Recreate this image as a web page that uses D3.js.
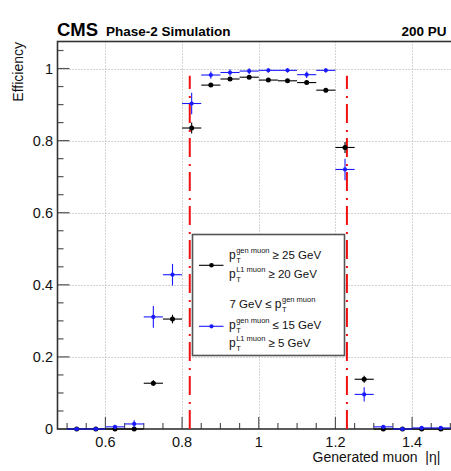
<!DOCTYPE html>
<html>
<head>
<meta charset="utf-8">
<script src="https://cdn.jsdelivr.net/npm/d3@7"></script>
<style>
  body { margin: 0; background: #fff; }
  svg { display: block; font-family: "Liberation Sans", Arial, Helvetica, sans-serif; }
</style>
</head>
<body>
<svg id="chart" width="451" height="471"></svg>
<script>
// bin centres of generated muon |eta|
let etaBins = [0.525, 0.575, 0.625, 0.675, 0.725, 0.775, 0.825, 0.875, 0.925, 0.975,
               1.025, 1.075, 1.125, 1.175, 1.225, 1.275, 1.325, 1.375, 1.425, 1.475];
let binHalfWidth = 0.025;

// pT(gen) >= 25 GeV, pT(L1) >= 20 GeV
let effHigh = [0, 0, 0, 0, 0.127, 0.305, 0.835, 0.954, 0.971, 0.976,
               0.968, 0.966, 0.961, 0.940, 0.781, 0.138, 0, 0, 0, 0];
let errHigh = [0, 0, 0, 0, 0.008, 0.012, 0.015, 0.005, 0.004, 0.004,
               0.004, 0.004, 0.005, 0.006, 0.015, 0.010, 0, 0, 0, 0];

// 7 <= pT(gen) <= 15 GeV, pT(L1) >= 5 GeV
let effLow = [0, 0, 0.006, 0.014, 0.311, 0.428, 0.903, 0.982, 0.989, 0.993,
              0.995, 0.995, 0.983, 0.995, 0.720, 0.096, 0.006, 0, 0.003, 0.003];
let errLow = [0.002, 0.002, 0.005, 0.010, 0.030, 0.030, 0.030, 0.010, 0.009, 0.008,
              0.006, 0.006, 0.009, 0.006, 0.030, 0.020, 0.005, 0.002, 0.003, 0.003];

// station boundaries (red dash-dot lines)
let boundaries = [0.82, 1.23];
let boundaryTop = 0.98;

let xTicks = [0.6, 0.8, 1.0, 1.2, 1.4];
let yTicks = [0, 0.2, 0.4, 0.6, 0.8, 1.0];

let svg = d3.select("#chart");

let frame = {left: 57.5, top: 41.5, right: 460, bottom: 429};

let x = d3.scaleLinear().domain([0.475, 1.525]).range([frame.left, frame.right]);
let y = d3.scaleLinear().domain([0, 1.075]).range([frame.bottom, frame.top]);

let fmt = d => d3.format("~g")(d);

// grid
let grid = svg.append("g").attr("class", "grid")
    .attr("stroke", "#a8a8a8")
    .attr("stroke-width", 1)
    .attr("stroke-dasharray", "1,2");

grid.selectAll("line.gx")
    .data(xTicks)
    .join("line")
    .attr("class", "gx")
    .attr("x1", d => Math.round(x(d)) + 0.5).attr("x2", d => Math.round(x(d)) + 0.5)
    .attr("y1", frame.top).attr("y2", frame.bottom);

grid.selectAll("line.gy")
    .data(yTicks.filter(d => d > 0))
    .join("line")
    .attr("class", "gy")
    .attr("x1", frame.left).attr("x2", frame.right)
    .attr("y1", d => Math.round(y(d)) + 0.5).attr("y2", d => Math.round(y(d)) + 0.5);

// ticks (ROOT style, inside the frame)
let minorX = d3.range(0.5, 1.526, 0.05);
let minorY = d3.range(0, 1.076, 0.05);

let ticks = svg.append("g").attr("stroke", "#555").attr("stroke-width", 1.2);

ticks.selectAll("line.tx")
    .data(minorX)
    .join("line")
    .attr("class", "tx")
    .attr("x1", d => x(d)).attr("x2", d => x(d))
    .attr("y1", frame.bottom)
    .attr("y2", d => frame.bottom - (xTicks.some(t => Math.abs(t - d) < 1e-6) ? 12 : 6));

ticks.selectAll("line.ty")
    .data(minorY)
    .join("line")
    .attr("class", "ty")
    .attr("y1", d => y(d)).attr("y2", d => y(d))
    .attr("x1", frame.left)
    .attr("x2", d => frame.left + (yTicks.some(t => Math.abs(t - d) < 1e-6) ? 12 : 6));

// frame
svg.append("rect")
    .attr("x", frame.left).attr("y", frame.top)
    .attr("width", frame.right - frame.left).attr("height", frame.bottom - frame.top)
    .attr("fill", "none")
    .attr("stroke", "#333")
    .attr("stroke-width", 1.6);

// tick labels
svg.append("g")
    .selectAll("text")
    .data(xTicks)
    .join("text")
    .attr("x", d => x(d))
    .attr("y", 447)
    .attr("text-anchor", "middle")
    .attr("font-size", 14.5)
    .attr("fill", "#111")
    .text(fmt);

svg.append("g")
    .selectAll("text")
    .data(yTicks)
    .join("text")
    .attr("x", 53)
    .attr("y", d => y(d) + 5)
    .attr("text-anchor", "end")
    .attr("font-size", 14.5)
    .attr("fill", "#111")
    .text(fmt);

// axis titles
svg.append("text")
    .attr("transform", "translate(23,42) rotate(-90)")
    .attr("text-anchor", "end")
    .attr("font-size", 14)
    .attr("fill", "#111")
    .text("Efficiency");

svg.append("text")
    .attr("x", 312.5)
    .attr("y", 462)
    .attr("font-size", 14)
    .attr("fill", "#111")
    .attr("xml:space", "preserve")
    .text("Generated muon  |η|");

// header
svg.append("text")
    .attr("x", 57).attr("y", 36)
    .attr("font-size", 18.5).attr("font-weight", "bold")
    .text("CMS");
svg.append("text")
    .attr("x", 106).attr("y", 36)
    .attr("font-size", 13.5).attr("font-weight", "bold")
    .text("Phase-2 Simulation");
svg.append("text")
    .attr("x", 401.5).attr("y", 36)
    .attr("font-size", 13.5).attr("font-weight", "bold")
    .text("200 PU");

// red boundary lines
svg.append("g")
    .selectAll("line")
    .data(boundaries)
    .join("line")
    .attr("x1", d => x(d)).attr("x2", d => x(d))
    .attr("y1", y(0)).attr("y2", y(boundaryTop))
    .attr("stroke", "#f01010")
    .attr("stroke-width", 2)
    .attr("stroke-dasharray", "19,6,2,7");

// error bar series
function drawSeries(vals, errs, color, r){
    let pts = etaBins.map((e, i) => ({x: e, v: vals[i], err: errs[i]}));
    let g = svg.append("g").attr("stroke", color).attr("fill", color);

    g.selectAll("line.ex")
        .data(pts)
        .join("line")
        .attr("class", "ex")
        .attr("x1", d => x(d.x - binHalfWidth)).attr("x2", d => x(d.x + binHalfWidth))
        .attr("y1", d => y(d.v)).attr("y2", d => y(d.v))
        .attr("stroke-width", 1.1);

    g.selectAll("line.ey")
        .data(pts.filter(d => d.err > 0))
        .join("line")
        .attr("class", "ey")
        .attr("x1", d => x(d.x)).attr("x2", d => x(d.x))
        .attr("y1", d => y(Math.max(0, d.v - d.err))).attr("y2", d => y(d.v + d.err))
        .attr("stroke-width", 1.1);

    g.selectAll("circle")
        .data(pts)
        .join("circle")
        .attr("cx", d => x(d.x))
        .attr("cy", d => y(d.v))
        .attr("r", r)
        .attr("stroke", "none");
}

drawSeries(effHigh, errHigh, "#000", 2.5);
drawSeries(effLow, errLow, "#1a1aff", 2.1);

// legend
let legend = svg.append("g");
legend.append("rect")
    .attr("x", 192.5).attr("y", 234.5)
    .attr("width", 152).attr("height", 121)
    .attr("fill", "#fff")
    .attr("stroke", "#555")
    .attr("stroke-width", 1.6);

function legendKey(cy, color, r){
    legend.append("line")
        .attr("x1", 199).attr("x2", 223.5)
        .attr("y1", cy).attr("y2", cy)
        .attr("stroke", color).attr("stroke-width", 1.1);
    legend.append("circle")
        .attr("cx", 211.5).attr("cy", cy).attr("r", r)
        .attr("fill", color);
}

// p_T with superscript label, followed by the rest of the line
function ptLabel(x0, yb, prefix, sup, rest){
    let t = legend.append("text").attr("x", x0).attr("y", yb)
        .attr("font-size", 12).attr("fill", "#111").attr("xml:space", "preserve");
    let px = x0;
    if(prefix){
        let pre = legend.append("text").attr("x", px).attr("y", yb)
            .attr("font-size", 11.5).attr("fill", "#111").attr("xml:space", "preserve")
            .text(prefix);
        px += pre.node().getComputedTextLength();
    }
    t.attr("x", px).text("p");
    let pw = t.node().getComputedTextLength();
    let s = legend.append("text").attr("x", px + pw + 0.5).attr("y", yb - 6)
        .attr("font-size", 7.5).attr("fill", "#111").text(sup);
    legend.append("text").attr("x", px + pw + 0.5).attr("y", yb + 4)
        .attr("font-size", 7.5).attr("fill", "#111").text("T");
    if(rest){
        legend.append("text").attr("x", px + pw + s.node().getComputedTextLength() + 3.5).attr("y", yb)
            .attr("font-size", 11.5).attr("fill", "#111").attr("xml:space", "preserve")
            .text(rest);
    }
}

legendKey(265.3, "#000", 2.3);
ptLabel(229, 259, null, "gen muon", "≥ 25 GeV");
ptLabel(229, 277.5, null, "L1 muon", "≥ 20 GeV");

legendKey(326.3, "#1a1aff", 2.1);
ptLabel(229.5, 308, "7 GeV ≤ ", "gen muon", null);
ptLabel(229, 328.5, null, "gen muon", "≤ 15 GeV");
ptLabel(229, 347, null, "L1 muon", "≥ 5 GeV");
</script>
</body>
</html>
